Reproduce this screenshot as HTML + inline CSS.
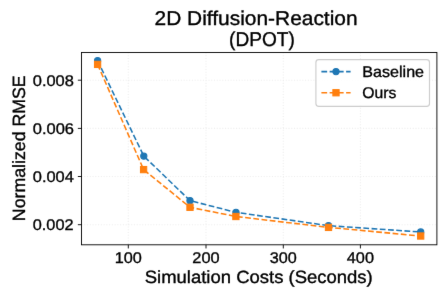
<!DOCTYPE html><html><head><meta charset="utf-8"><style>html,body{margin:0;padding:0;background:#fff;width:448px;height:299px;overflow:hidden}svg{display:block;will-change:transform}text{font-family:"Liberation Sans",sans-serif;fill:#000;text-rendering:geometricPrecision;stroke:#000;stroke-width:0.35px}</style></head><body>
<svg width="448" height="299" viewBox="0 0 448 299">
<defs><filter id="sm" x="0" y="0" width="448" height="299" filterUnits="userSpaceOnUse" color-interpolation-filters="sRGB"><feConvolveMatrix order="3" kernelMatrix="0.0036 0.0528 0.0036 0.0528 0.7744 0.0528 0.0036 0.0528 0.0036" divisor="1" edgeMode="duplicate" preserveAlpha="false"/></filter></defs><g filter="url(#sm)">
<rect width="448" height="299" fill="#fff"/>
<path d="M128.3 52.5V244.8M206.0 52.5V244.8M283.3 52.5V244.8M360.4 52.5V244.8M81.5 224.7H436.9M81.5 176.5H436.9M81.5 128.4H436.9M81.5 80.2H436.9" stroke="#b0b0b0" stroke-opacity="0.22" stroke-width="1.1" stroke-dasharray="1.04 1.72" fill="none"/>
<path d="M97.6 60.65 L143.8 156.1 L190.0 200.65 L236.0 212.35 L328.5 225.65 L420.7 232.0" stroke="#1f77b4" stroke-width="1.5625" stroke-dasharray="5.752 2.488" fill="none"/>
<circle cx="97.6" cy="60.65" r="3.125" fill="#1f77b4" stroke="#1f77b4" stroke-width="1.04"/>
<circle cx="143.8" cy="156.1" r="3.125" fill="#1f77b4" stroke="#1f77b4" stroke-width="1.04"/>
<circle cx="190.0" cy="200.65" r="3.125" fill="#1f77b4" stroke="#1f77b4" stroke-width="1.04"/>
<circle cx="236.0" cy="212.35" r="3.125" fill="#1f77b4" stroke="#1f77b4" stroke-width="1.04"/>
<circle cx="328.5" cy="225.65" r="3.125" fill="#1f77b4" stroke="#1f77b4" stroke-width="1.04"/>
<circle cx="420.7" cy="232.0" r="3.125" fill="#1f77b4" stroke="#1f77b4" stroke-width="1.04"/>
<path d="M97.6 64.4 L143.6 169.6 L190.0 207.3 L235.9 216.5 L328.5 227.4 L420.7 236.0" stroke="#ff7f0e" stroke-width="1.5625" stroke-dasharray="5.752 2.488" fill="none"/>
<rect x="94.475" y="61.275000000000006" width="6.25" height="6.25" fill="#ff7f0e" stroke="#ff7f0e" stroke-width="1.04"/>
<rect x="140.475" y="166.475" width="6.25" height="6.25" fill="#ff7f0e" stroke="#ff7f0e" stroke-width="1.04"/>
<rect x="186.875" y="204.175" width="6.25" height="6.25" fill="#ff7f0e" stroke="#ff7f0e" stroke-width="1.04"/>
<rect x="232.775" y="213.375" width="6.25" height="6.25" fill="#ff7f0e" stroke="#ff7f0e" stroke-width="1.04"/>
<rect x="325.375" y="224.275" width="6.25" height="6.25" fill="#ff7f0e" stroke="#ff7f0e" stroke-width="1.04"/>
<rect x="417.575" y="232.875" width="6.25" height="6.25" fill="#ff7f0e" stroke="#ff7f0e" stroke-width="1.04"/>
<rect x="81.5" y="52.5" width="355.4" height="192.3" fill="none" stroke="#000" stroke-width="0.9"/>
<path d="M128.3 244.8V248.45000000000002M206.0 244.8V248.45000000000002M283.3 244.8V248.45000000000002M360.4 244.8V248.45000000000002M81.5 224.7H77.85M81.5 176.5H77.85M81.5 128.4H77.85M81.5 80.2H77.85" stroke="#000" stroke-width="0.9" fill="none"/>
<text x="114.75" y="263.10" font-size="15.53" textLength="27.13" lengthAdjust="spacingAndGlyphs">100</text>
<text x="192.33" y="263.10" font-size="15.53" textLength="27.25" lengthAdjust="spacingAndGlyphs">200</text>
<text x="269.88" y="263.10" font-size="15.53" textLength="27.00" lengthAdjust="spacingAndGlyphs">300</text>
<text x="346.82" y="263.10" font-size="15.53" textLength="27.16" lengthAdjust="spacingAndGlyphs">400</text>
<text x="32.79" y="230.10" font-size="15.53" textLength="40.77" lengthAdjust="spacingAndGlyphs">0.002</text>
<text x="32.78" y="181.90" font-size="15.53" textLength="41.08" lengthAdjust="spacingAndGlyphs">0.004</text>
<text x="32.78" y="133.80" font-size="15.53" textLength="41.23" lengthAdjust="spacingAndGlyphs">0.006</text>
<text x="32.78" y="85.60" font-size="15.53" textLength="41.14" lengthAdjust="spacingAndGlyphs">0.008</text>
<text x="144.76" y="283.20" font-size="17.75" textLength="227.98" lengthAdjust="spacingAndGlyphs">Simulation Costs (Seconds)</text>
<text transform="rotate(-90)" x="-221.15" y="25.10" font-size="17.75" textLength="145.82" lengthAdjust="spacingAndGlyphs">Normalized RMSE</text>
<text x="154.55" y="25.30" font-size="19.97" textLength="203.01" lengthAdjust="spacingAndGlyphs">2D Diffusion-Reaction</text>
<text x="229.02" y="45.80" font-size="19.97" textLength="65.77" lengthAdjust="spacingAndGlyphs">(DPOT)</text>
<rect x="315.9" y="59.6" width="113.60000000000002" height="46.699999999999996" rx="2.9" ry="2.9" fill="#fff" fill-opacity="0.85" stroke="#c4c4c4" stroke-opacity="0.85" stroke-width="1.15"/>
<path d="M321.4 71.6H350.6" stroke="#1f77b4" stroke-width="1.5625" stroke-dasharray="5.752 2.488" fill="none"/>
<circle cx="336" cy="71.6" r="3.125" fill="#1f77b4" stroke="#1f77b4" stroke-width="1.04"/>
<text x="362.38" y="76.60" font-size="15.53" textLength="61.64" lengthAdjust="spacingAndGlyphs">Baseline</text>
<path d="M321.4 92.75H350.6" stroke="#ff7f0e" stroke-width="1.5625" stroke-dasharray="5.752 2.488" fill="none"/>
<rect x="332.875" y="89.625" width="6.25" height="6.25" fill="#ff7f0e" stroke="#ff7f0e" stroke-width="1.04"/>
<text x="362.34" y="98.10" font-size="15.53" textLength="34.09" lengthAdjust="spacingAndGlyphs">Ours</text>
</g></svg></body></html>
